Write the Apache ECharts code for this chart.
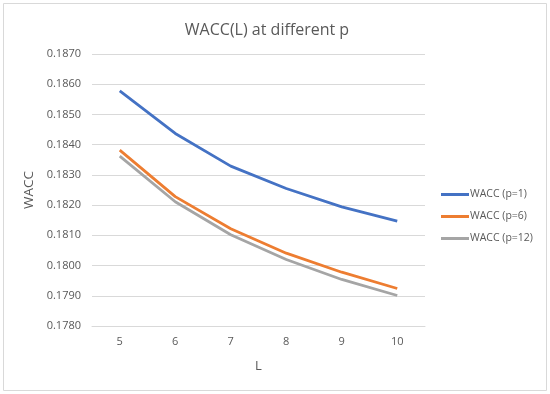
<!DOCTYPE html>
<html><head><meta charset="utf-8">
<script src="https://cdn.jsdelivr.net/npm/echarts@6/dist/echarts.min.js"></script>
<style>html,body{margin:0;padding:0;background:#fff}#c{width:550px;height:394px}</style>
</head><body><div id="c"></div>
<script>
const categories = ['5','6','7','8','9','10'];
const waccP1 = [0.18578, 0.18437, 0.18329, 0.18255, 0.18194, 0.18147];
const waccP6 = [0.18382, 0.18228, 0.18122, 0.18041, 0.17978, 0.17924];
const waccP12 = [0.18362, 0.18211, 0.18102, 0.18020, 0.17954, 0.17901];
const seriesNames = ['WACC (p=1)', 'WACC (p=6)', 'WACC (p=12)'];
const colors = ['#4472C4', '#ED7D31', '#A5A5A5'];
const font = "'Open Sans', 'Liberation Sans', sans-serif";
const chart = echarts.init(document.getElementById('c'), null, {renderer:'canvas'});
const mk = (name, data, color) => ({
  name, type:'line', data, symbol:'none', smooth:false,
  lineStyle:{color, width:2.8}, itemStyle:{color}
});
chart.setOption({
  animation:false,
  color: colors,
  graphic:[{type:'rect', shape:{x:3.5,y:3.5,width:543,height:387}, style:{fill:'none', stroke:'#d9d9d9', lineWidth:1}, silent:true}],
  title:{text:'WACC(L) at different p', left:262, top:17, textAlign:'center',
    textStyle:{fontFamily:font, fontSize:16, fontWeight:'normal', color:'#595959'}},
  legend:{orient:'vertical', left:436, top:184, itemWidth:28, itemHeight:3, itemGap:11,
    icon:'rect', textStyle:{fontFamily:font, fontSize:10.5, color:'#595959', padding:[0,0,0,-4]},
    data: seriesNames},
  grid:{left:92, right:125, top:54, bottom:68},
  xAxis:{type:'category', data:categories, boundaryGap:true, name:'L', nameLocation:'middle', nameGap:34,
    nameTextStyle:{fontFamily:font, fontSize:13, color:'#595959'},
    axisLine:{lineStyle:{color:'#d9d9d9'}}, axisTick:{show:false},
    axisLabel:{fontFamily:font, fontSize:11, color:'#595959', margin:10}},
  yAxis:{type:'value', min:0.178, max:0.187, interval:0.001, name:'WACC', nameLocation:'middle', nameGap:52,
    nameTextStyle:{fontFamily:font, fontSize:13.5, color:'#595959'},
    axisLine:{show:false}, axisTick:{show:false},
    splitLine:{lineStyle:{color:'#d9d9d9'}},
    axisLabel:{fontFamily:font, fontSize:11, color:'#595959', margin:11, formatter:v=>v.toFixed(4)}},
  series:[mk(seriesNames[0], waccP1, colors[0]), mk(seriesNames[1], waccP6, colors[1]), mk(seriesNames[2], waccP12, colors[2])]
});
</script></body></html>
